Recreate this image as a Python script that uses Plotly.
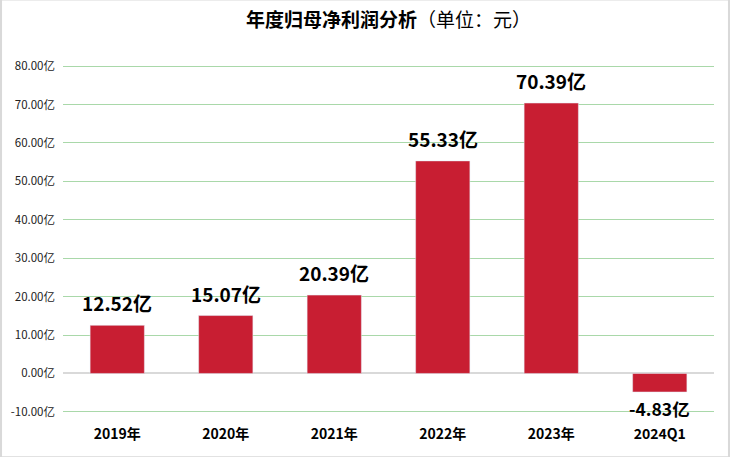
import plotly.graph_objects as go

categories = ["2019年", "2020年", "2021年", "2022年", "2023年", "2024Q1"]
values = [12.52, 15.07, 20.39, 55.33, 70.39, -4.83]
label_texts = ["12.52亿", "15.07亿", "20.39亿", "55.33亿", "70.39亿", "-4.83亿"]
y_ticks = [-10, 0, 10, 20, 30, 40, 50, 60, 70, 80]
y_tick_text = ["-10.00亿", "0.00亿", "10.00亿", "20.00亿", "30.00亿", "40.00亿",
               "50.00亿", "60.00亿", "70.00亿", "80.00亿"]

FONT = "Noto Sans CJK SC"
BAR = "#c81e32"

fig = go.Figure()
fig.add_trace(go.Bar(x=categories, y=values, marker_color=BAR, width=0.5,
                     hoverinfo="skip"))

annotations = []
for c, v, t in zip(categories, values, label_texts):
    annotations.append(dict(
        x=c, y=v, xref="x", yref="y", text=t, showarrow=False,
        yanchor="bottom" if v >= 0 else "top",
        yshift=8 if v >= 0 else -3,
        borderpad=0,
        font=dict(family=FONT, size=19 if v >= 0 else 17.5, color="#000000", weight="bold"),
    ))
annotations.append(dict(
    x=0.5, y=1.0, xref="paper", yref="paper", xanchor="center", yanchor="bottom",
    yshift=31, showarrow=False,
    text="<b>年度归母净利润分析</b>（单位：元）",
    font=dict(family=FONT, size=19, color="#000000"),
))

shapes = [dict(type="rect", xref="paper", yref="paper",
               x0=-0.0952, x1=1.023, y0=-0.127, y1=1.188,
               line=dict(color="#d9d9d9", width=2), fillcolor="rgba(0,0,0,0)", layer="below")]

fig.update_layout(
    width=730, height=457,
    margin=dict(l=63, r=16, t=65, b=44),
    paper_bgcolor="white", plot_bgcolor="white",
    showlegend=False,
    bargap=0.5,
    annotations=annotations,
    shapes=shapes,
    font=dict(family=FONT),
    xaxis=dict(
        showgrid=False, showline=False, ticks="",
        tickfont=dict(family=FONT, size=14, color="#000000", weight="bold"),
        ticklabelstandoff=11,
    ),
    yaxis=dict(
        range=[-10.3, 80.3], tickvals=y_ticks, ticktext=y_tick_text,
        showgrid=True, gridcolor="#a9d8a9", gridwidth=1,
        zeroline=True, zerolinecolor="#d9d9d9", zerolinewidth=1.5,
        showline=False, ticks="",
        tickfont=dict(family=FONT, size=11.5, color="#222222"),
        ticklabelstandoff=7,
    ),
)

fig.write_html("out.html", config={"displayModeBar": False},
               post_script="document.body.style.margin='0';document.body.style.overflow='hidden';")
